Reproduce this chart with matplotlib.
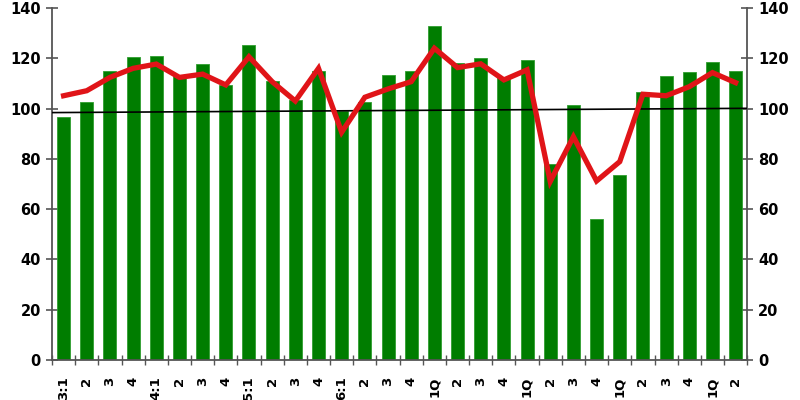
import numpy as np
import matplotlib.pyplot as plt

plt.rcParams['font.family'] = ['DejaVu Sans']
plt.rcParams['font.weight'] = 'bold'

# Rótulos do eixo x.
rotulos = ['3:1', '2', '3', '4', '4:1', '2', '3', '4', '5:1', '2', '3', '4',
           '6:1', '2', '3', '4', '1Q', '2', '3', '4', '1Q', '2', '3', '4',
           '1Q', '2', '3', '4', '1Q', '2']

# Barras (verde) e linha (vermelha).
barras = [96.5, 102.5, 115, 120.7, 121, 113, 117.6, 109.4, 125.3, 111,
          103.5, 115, 99, 102.5, 113.4, 115, 132.9, 118, 120, 112.5,
          119.3, 78, 101.3, 56, 73.7, 106.5, 113, 114.6, 118.7, 114.9]
linha = [105.1, 107.1, 112.4, 116, 117.7, 112.4, 113.7, 109.4, 120.6, 110.7,
         103, 116, 90.6, 104.5, 107.8, 110.7, 124, 116.3, 117.8, 111.4,
         115.4, 71, 88.8, 71.2, 78.9, 105.7, 105.1, 108.7, 114.3, 110.3]

# Linha de referência (inclinada levemente).
ref_inicio = 98.4
ref_fim = 100.1

x = np.arange(len(rotulos))

fig = plt.figure(figsize=(8, 4), dpi=100)
ax = fig.add_axes([0.065, 0.1, 0.869, 0.88])

ax.bar(x, barras, width=0.56, color='#007d00', edgecolor='#2f9e2f', linewidth=0.6, zorder=2)
ax.plot([-0.5, len(x) - 0.5], [ref_inicio, ref_fim], color='black', lw=1.2, zorder=3)
ax.plot(x, linha, color='#e01418', lw=3.8, solid_joinstyle='miter', zorder=4)

ax.set_xlim(-0.5, len(x) - 0.5)
ax.set_ylim(0, 140)

# Eixo y esquerdo e direito.
cinza = '#555555'
ax.set_yticks([0, 20, 40, 60, 80, 100, 120, 140])
ax.tick_params(axis='y', direction='inout', length=8, width=1.2, color=cinza,
               left=True, right=True, labelleft=True, labelright=True,
               labelsize=10.5, pad=4)

# Eixo x: marcas entre as barras, rótulos no centro.
ax.set_xticks(x)
ax.set_xticklabels(rotulos, rotation=90, fontsize=9.5)
ax.tick_params(axis='x', which='major', length=0, pad=12)
ax.set_xticks(np.arange(-0.5, len(x), 1), minor=True)
ax.tick_params(axis='x', which='minor', direction='inout', length=7, width=1, color=cinza)

for lado in ['left', 'right', 'bottom']:
    ax.spines[lado].set_color(cinza)
    ax.spines[lado].set_linewidth(1.3)
ax.spines['top'].set_visible(False)

plt.savefig('out.png', dpi=100)
